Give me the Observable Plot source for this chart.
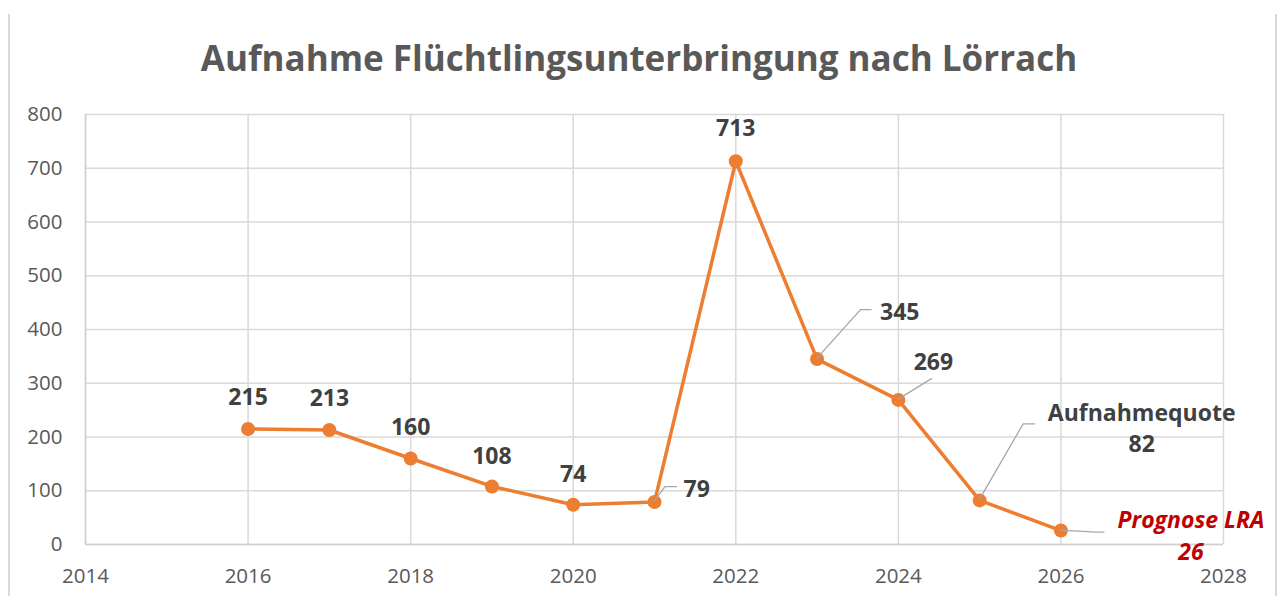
<!DOCTYPE html>
<html><head><meta charset="utf-8">
<script src="https://cdn.jsdelivr.net/npm/d3@7"></script>
<script src="https://cdn.jsdelivr.net/npm/@observablehq/plot@0.6"></script>
<style>
body{margin:0;background:#fff;}
#wrap{position:relative;width:1278px;height:596px;overflow:hidden;font-family:"Open Sans",sans-serif;}
#title{height:100px;position:relative;}
#title span{position:absolute;left:0;right:0;text-align:center;top:40px;font-size:35px;font-weight:700;color:#595959;line-height:1;white-space:nowrap;}
.frame{position:absolute;top:14px;bottom:0;width:2px;background:#d9d9d9;}
#chart svg{display:block;}
</style></head><body>
<div id="wrap">
<div class="frame" style="left:8px"></div>
<div class="frame" style="left:1275px"></div>
<div id="title"><span id="titletext"></span></div>
<div id="chart"></div>
</div>
<script>
// ---- data ----
const titleText = "Aufnahme Flüchtlingsunterbringung nach Lörrach";
const years = [2016, 2017, 2018, 2019, 2020, 2021, 2022, 2023, 2024, 2025, 2026];
const values = [215, 213, 160, 108, 74, 79, 713, 345, 269, 82, 26];
const labelTexts = ["215", "213", "160", "108", "74", "79", "713", "345", "269", "Aufnahmequote\n82", "Prognose LRA\n26"];
const xTicks = [2014, 2016, 2018, 2020, 2022, 2024, 2026, 2028];
const yTicks = [0, 100, 200, 300, 400, 500, 600, 700, 800];

document.getElementById("titletext").textContent = titleText;

const data = years.map((year, i) => ({year, value: values[i], label: labelTexts[i]}));

// ---- styling / placement (pixel offsets relative to the data point) ----
const orange = "#ed7d31";
const labelStyle = [
  {dx: 0, dy: -34, anchor: "middle"},
  {dx: 0, dy: -34, anchor: "middle"},
  {dx: 0, dy: -34, anchor: "middle"},
  {dx: 0, dy: -33, anchor: "middle"},
  {dx: 0, dy: -33, anchor: "middle"},
  {dx: 29, dy: -15, anchor: "start"},
  {dx: 0, dy: -35, anchor: "middle"},
  {dx: 63, dy: -49, anchor: "start"},
  {dx: 35, dy: -40, anchor: "middle"},
  {dx: 162, dy: -74, anchor: "middle"},
  {dx: 130, dy: 3, anchor: "middle", fill: "#c00000", italic: true}
];
const leaderStyle = {
  5: [[0, 0], [11, -15], [23, -15]],
  7: [[0, 0], [44, -49], [55, -49]],
  8: [[0, 0], [34, -21]],
  9: [[0, 0], [44, -76], [56, -76]],
  10: [[0, 0], [36, 2], [44, 2]]
};

const labelMarks = data.map((d, i) => {
  const s = labelStyle[i];
  return Plot.text([d], {
    x: "year", y: "value", text: "label",
    dx: s.dx, dy: s.dy, textAnchor: s.anchor, lineAnchor: "middle",
    lineHeight: 1.38,
    fill: s.fill || "#404040", fontSize: 23, fontWeight: 700,
    fontStyle: s.italic ? "italic" : "normal"
  });
});

const leaders = (index, scales) => {
  const g = d3.create("svg:g").attr("fill", "none").attr("stroke", "#a6a6a6").attr("stroke-width", 1.3);
  Object.entries(leaderStyle).forEach(([i, pts]) => {
    const d = data[+i];
    const px = scales.x(d.year), py = scales.y(d.value);
    g.append("path").attr("d", d3.line()(pts.map(([ox, oy]) => [px + ox, py + oy])));
  });
  return g.node();
};

const chart = Plot.plot({
  width: 1278,
  height: 496,
  marginTop: 14,
  marginBottom: 52,
  marginLeft: 85,
  marginRight: 55,
  style: {fontFamily: "'Open Sans', sans-serif", background: "transparent"},
  x: {domain: [2014, 2028]},
  y: {domain: [0, 800]},
  marks: [
    Plot.gridX(xTicks, {stroke: "#d9d9d9", strokeOpacity: 1, strokeWidth: 1.5}),
    Plot.gridY(yTicks, {stroke: "#d9d9d9", strokeOpacity: 1, strokeWidth: 1.5}),
    Plot.ruleY([0], {stroke: "#d0d0d0", strokeWidth: 1.5}),
    Plot.ruleX([2014], {stroke: "#d0d0d0", strokeWidth: 1.5}),
    Plot.axisX({ticks: xTicks, tickFormat: d => String(d), tickSize: 0, tickPadding: 24, fontSize: 20.5, fill: "#595959", label: null}),
    Plot.axisY({ticks: yTicks, tickFormat: d => String(d), tickSize: 0, tickPadding: 23, fontSize: 20.5, fill: "#595959", label: null}),
    Plot.line(data, {x: "year", y: "value", stroke: orange, strokeWidth: 3.5}),
    Plot.dot(data, {x: "year", y: "value", r: 7, fill: orange, stroke: "none"}),
    leaders,
    ...labelMarks
  ]
});
document.getElementById("chart").appendChild(chart);
</script>
</body></html>
